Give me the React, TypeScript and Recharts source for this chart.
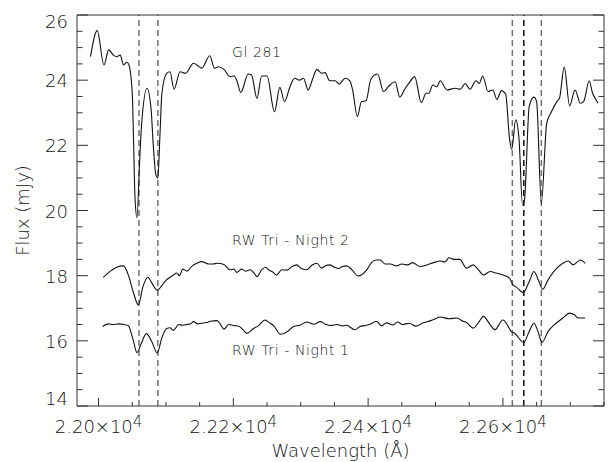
import { LineChart, Line, XAxis, YAxis, ReferenceLine, ReferenceDot } from 'recharts'

// wavelength (Å), flux (mJy)
const gl281: [number, number][] = [
  [21988, 24.72], [21998, 25.52], [22008, 24.47], [22015, 24.93], [22022, 24.77], [22027, 24.72],
  [22032, 24.77], [22037, 24.47], [22042, 24.55], [22045, 24.47], [22050, 23.6], [22052, 22.07],
  [22054, 20.43], [22057, 19.78], [22061, 21.55], [22064, 22.68], [22072, 23.75], [22078, 23.09],
  [22081, 22.06], [22085, 21.1], [22088, 21.0], [22091, 22.27], [22094, 23.6], [22101, 24.21],
  [22106, 24.26], [22112, 23.72], [22121, 24.26], [22129, 24.21], [22141, 24.52], [22147, 24.45],
  [22153, 24.37], [22165, 24.75], [22172, 24.37], [22178, 24.41], [22186, 24.33], [22195, 24.11],
  [22201, 24.13], [22205, 24.0], [22211, 23.62], [22222, 24.19], [22227, 24.16], [22235, 23.44],
  [22242, 24.13], [22250, 24.13], [22261, 23.03], [22269, 23.78], [22276, 23.34], [22284, 23.8],
  [22291, 24.06], [22298, 24.0], [22304, 24.06], [22311, 23.7], [22317, 24.0], [22324, 24.33],
  [22331, 24.21], [22336, 24.23], [22343, 23.98], [22351, 23.98], [22357, 23.88], [22366, 24.06],
  [22373, 23.98], [22377, 23.7], [22384, 22.88], [22390, 23.34], [22397, 23.37], [22404, 24.03],
  [22414, 24.19], [22423, 23.65], [22430, 23.8], [22440, 23.95], [22447, 23.48], [22455, 23.75],
  [22462, 23.95], [22469, 24.11], [22479, 23.31], [22486, 23.6], [22490, 23.6], [22496, 23.85],
  [22502, 23.8], [22507, 23.98], [22517, 23.7], [22529, 23.75], [22537, 23.72], [22544, 23.9],
  [22551, 23.72], [22560, 23.98], [22565, 23.9], [22570, 24.13], [22578, 23.65], [22585, 23.7],
  [22591, 23.41], [22598, 23.68], [22604, 23.58], [22610, 22.17], [22613, 21.88], [22619, 22.78],
  [22624, 22.17], [22629, 20.17], [22632, 20.33], [22639, 23.19], [22646, 23.48], [22650, 23.34],
  [22657, 20.22], [22665, 22.68], [22672, 23.03], [22680, 23.34], [22684, 23.45], [22691, 24.4],
  [22699, 23.21], [22707, 23.7], [22715, 23.29], [22720, 23.35], [22728, 23.98], [22733, 23.6],
  [22738, 23.41], [22741, 23.29],
]

const night2: [number, number][] = [
  [22007, 17.95], [22017, 18.13], [22027, 18.26], [22037, 18.3], [22045, 17.97], [22052, 17.46],
  [22059, 17.1], [22066, 17.67], [22073, 17.95], [22080, 17.74], [22087, 17.55], [22094, 17.7],
  [22099, 17.83], [22106, 17.95], [22111, 18.02], [22116, 18.08], [22120, 18.0], [22125, 18.2],
  [22131, 18.14], [22139, 18.3], [22146, 18.38], [22153, 18.43], [22163, 18.36], [22170, 18.36],
  [22176, 18.38], [22186, 18.34], [22195, 18.18], [22201, 18.2], [22205, 18.1], [22212, 18.2],
  [22218, 18.14], [22225, 18.18], [22230, 18.1], [22235, 17.97], [22242, 18.18], [22248, 18.26],
  [22252, 18.18], [22258, 18.12], [22264, 18.02], [22272, 18.18], [22280, 18.17], [22287, 18.28],
  [22294, 18.33], [22301, 18.22], [22309, 18.18], [22317, 18.33], [22324, 18.38], [22331, 18.23],
  [22336, 18.3], [22343, 18.33], [22350, 18.26], [22356, 18.22], [22362, 18.28], [22368, 18.3],
  [22376, 18.18], [22385, 17.99], [22398, 18.18], [22405, 18.4], [22412, 18.48], [22418, 18.48],
  [22425, 18.36], [22433, 18.36], [22442, 18.3], [22450, 18.36], [22459, 18.33], [22466, 18.4],
  [22477, 18.28], [22487, 18.33], [22497, 18.4], [22507, 18.45], [22514, 18.42], [22520, 18.55],
  [22527, 18.5], [22536, 18.5], [22546, 18.23], [22556, 18.33], [22563, 18.2], [22571, 18.02],
  [22581, 18.13], [22590, 18.08], [22600, 18.02], [22610, 17.92], [22615, 17.72], [22620, 17.65],
  [22630, 17.48], [22640, 17.87], [22646, 18.13], [22652, 17.9], [22659, 17.58], [22667, 17.87],
  [22680, 18.23], [22689, 18.38], [22697, 18.45], [22704, 18.33], [22715, 18.48], [22722, 18.38],
]

const night1: [number, number][] = [
  [22006, 16.44], [22014, 16.52], [22022, 16.5], [22030, 16.52], [22038, 16.5], [22044, 16.47],
  [22051, 16.05], [22057, 15.64], [22063, 15.9], [22071, 16.22], [22079, 15.97], [22087, 15.63],
  [22094, 16.1], [22101, 16.38], [22106, 16.4], [22111, 16.32], [22119, 16.5], [22125, 16.48],
  [22131, 16.5], [22136, 16.52], [22141, 16.59], [22147, 16.52], [22153, 16.54], [22160, 16.56],
  [22166, 16.6], [22176, 16.62], [22181, 16.5], [22186, 16.36], [22193, 16.5], [22200, 16.47],
  [22208, 16.45], [22214, 16.35], [22220, 16.23], [22230, 16.38], [22237, 16.46], [22247, 16.64],
  [22254, 16.55], [22260, 16.46], [22270, 16.2], [22280, 16.28], [22290, 16.45], [22299, 16.48],
  [22309, 16.58], [22319, 16.51], [22329, 16.59], [22336, 16.52], [22344, 16.47], [22354, 16.5],
  [22362, 16.46], [22368, 16.48], [22380, 16.34], [22388, 16.44], [22396, 16.47], [22404, 16.52],
  [22412, 16.6], [22420, 16.46], [22427, 16.55], [22437, 16.49], [22444, 16.58], [22451, 16.5],
  [22461, 16.54], [22471, 16.45], [22481, 16.55], [22493, 16.62], [22499, 16.67], [22507, 16.73],
  [22520, 16.68], [22532, 16.7], [22539, 16.62], [22546, 16.56], [22556, 16.39], [22565, 16.6],
  [22571, 16.75], [22581, 16.5], [22588, 16.34], [22600, 16.64], [22608, 16.44], [22612, 16.29],
  [22617, 16.24], [22631, 15.95], [22639, 16.29], [22646, 16.54], [22652, 16.29], [22658, 15.95],
  [22667, 16.29], [22679, 16.54], [22689, 16.7], [22699, 16.85], [22706, 16.8], [22712, 16.7],
  [22722, 16.7],
]

// Na I and Ca I line positions (dashed markers)
const naLines = [22060, 22088]
const caLines = [22614, 22631, 22657]

const xTicks = [
  22000, 22050, 22100, 22150, 22200, 22250, 22300, 22350,
  22400, 22450, 22500, 22550, 22600, 22650, 22700, 22750,
]
const yTicks = [
  14, 14.5, 15, 15.5, 16, 16.5, 17, 17.5, 18, 18.5, 19, 19.5,
  20, 20.5, 21, 21.5, 22, 22.5, 23, 23.5, 24, 24.5, 25, 25.5, 26,
]

const FONT = '"DejaVu Sans", sans-serif'
const INK = '#111'
const AXIS = '#333'
const PLOT_TOP = 15
const PLOT_BOTTOM = 406

const toRows = (pts: [number, number][]) => pts.map(([w, f]) => ({ w, f }))

function BottomTick({ x, y, payload }: any) {
  const v = payload.value
  const major = v % 200 === 0
  return (
    <g>
      <line x1={x} x2={x} y1={y} y2={y - (major ? 8 : 4)} stroke={AXIS} />
      {major && (
        <text x={x} y={y + 27} textAnchor="middle" fontSize={18} fontWeight={300} fill={INK} fontFamily={FONT}>
          {(v / 10000).toFixed(2)}×10
          <tspan dy={-6} fontSize={15}>4</tspan>
        </text>
      )}
    </g>
  )
}

function TopTick({ x, y, payload }: any) {
  const major = payload.value % 200 === 0
  return <line x1={x} x2={x} y1={y} y2={y + (major ? 8 : 4)} stroke={AXIS} />
}

function LeftTick({ x, y, payload }: any) {
  const v = payload.value
  const major = v % 2 === 0
  const base = Math.min(Math.max(y + 7, PLOT_TOP + 13), PLOT_BOTTOM - 1)
  return (
    <g>
      <line x1={x} x2={x + (major ? 11 : 5.5)} y1={y} y2={y} stroke={AXIS} />
      {major && (
        <text x={x - 9} y={base} textAnchor="end" fontSize={18} fontWeight={300} fill={INK} fontFamily={FONT}>
          {v}
        </text>
      )}
    </g>
  )
}

function RightTick({ x, y, payload }: any) {
  const major = payload.value % 2 === 0
  return <line x1={x} x2={x - (major ? 11 : 5.5)} y1={y} y2={y} stroke={AXIS} />
}

function Note({ viewBox, text }: any) {
  return (
    <text
      x={viewBox.x}
      y={viewBox.y}
      fontSize={14}
      fontWeight={300}
      letterSpacing={0.6}
      fill={INK}
      fontFamily={FONT}
    >
      {text}
    </text>
  )
}

export default function App() {
  return (
    <div style={{ position: 'absolute', left: 0, top: 0, width: 610, height: 462, background: '#fff' }}>
      <LineChart width={610} height={462} margin={{ top: 0, right: 0, bottom: 26, left: 17 }}>
        <XAxis
          dataKey="w"
          type="number"
          domain={[21968, 22750]}
          allowDataOverflow
          ticks={xTicks}
          interval={0}
          tickSize={0}
          tickMargin={0}
          tick={<BottomTick />}
          height={30}
          axisLine={{ stroke: AXIS }}
          label={({ viewBox }: any) => (
            <text
              x={viewBox.x + viewBox.width / 2}
              y={viewBox.y + 51}
              textAnchor="middle"
              fontSize={18}
              fontWeight={300}
              fill={INK}
              fontFamily={FONT}
            >
              Wavelength (Å)
            </text>
          )}
        />
        <XAxis
          xAxisId="top"
          orientation="top"
          type="number"
          domain={[21968, 22750]}
          allowDataOverflow
          ticks={xTicks}
          interval={0}
          tickSize={0}
          tickMargin={0}
          tick={<TopTick />}
          height={15}
          axisLine={{ stroke: AXIS }}
        />
        <YAxis
          type="number"
          domain={[14, 26]}
          allowDataOverflow
          ticks={yTicks}
          interval={0}
          tickSize={0}
          tickMargin={0}
          tick={<LeftTick />}
          width={60}
          axisLine={{ stroke: AXIS }}
          label={({ viewBox }: any) => {
            const cx = viewBox.x + 12
            const cy = viewBox.y + viewBox.height / 2
            return (
              <text
                x={cx}
                y={cy}
                transform={`rotate(-90, ${cx}, ${cy})`}
                textAnchor="middle"
                fontSize={18}
                fontWeight={300}
                fill={INK}
                fontFamily={FONT}
              >
                Flux (mJy)
              </text>
            )
          }}
        />
        <YAxis
          yAxisId="right"
          orientation="right"
          type="number"
          domain={[14, 26]}
          allowDataOverflow
          ticks={yTicks}
          interval={0}
          tickSize={0}
          tickMargin={0}
          tick={<RightTick />}
          width={6}
          axisLine={{ stroke: AXIS }}
        />

        {naLines.map((w) => (
          <ReferenceLine key={w} x={w} stroke="#707070" strokeWidth={1.5} strokeDasharray="6 4" />
        ))}
        {caLines.map((w, i) => (
          <ReferenceLine
            key={w}
            x={w}
            stroke={i === 1 ? '#111' : '#707070'}
            strokeWidth={1.5}
            strokeDasharray="6 4"
          />
        ))}

        <Line data={toRows(gl281)} dataKey="f" type="monotone" stroke="#111" strokeWidth={1.1} dot={false} isAnimationActive={false} />
        <Line data={toRows(night2)} dataKey="f" type="monotone" stroke="#111" strokeWidth={1.1} dot={false} isAnimationActive={false} />
        <Line data={toRows(night1)} dataKey="f" type="monotone" stroke="#111" strokeWidth={1.1} dot={false} isAnimationActive={false} />

        <ReferenceDot x={22198} y={24.71} r={0} ifOverflow="visible" label={(p: any) => <Note {...p} text="Gl 281" />} />
        <ReferenceDot x={22198} y={18.94} r={0} ifOverflow="visible" label={(p: any) => <Note {...p} text="RW Tri - Night 2" />} />
        <ReferenceDot x={22198} y={15.57} r={0} ifOverflow="visible" label={(p: any) => <Note {...p} text="RW Tri - Night 1" />} />
      </LineChart>
    </div>
  )
}
